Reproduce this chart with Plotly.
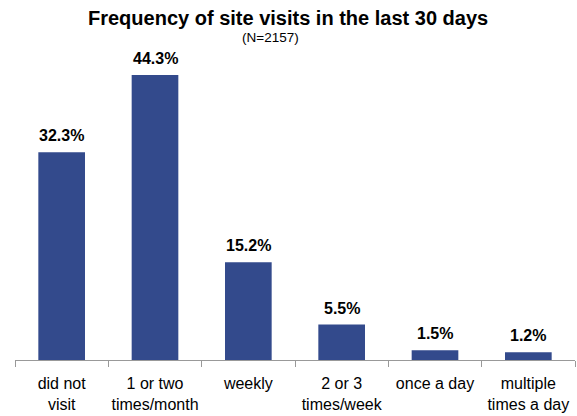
import plotly.graph_objects as go

categories = ["did not<br>visit", "1 or two<br>times/month", "weekly", "2 or 3<br>times/week", "once a day", "multiple<br>times a day"]
values = [32.3, 44.3, 15.2, 5.5, 1.5, 1.2]
title_text = "Frequency of site visits in the last 30 days"
subtitle_text = "(N=2157)"

fig = go.Figure(go.Bar(
    x=categories, y=values,
    marker=dict(color="#334A8C", line=dict(width=0)),
    width=0.5,
    hoverinfo="skip",
))

for c, v in zip(categories, values):
    fig.add_annotation(x=c, y=v, xref="x", yref="y", text=f"<b>{v:.1f}%</b>",
                       showarrow=False, xanchor="center", yanchor="bottom",
                       yshift=6,
                       font=dict(family="Liberation Sans, Arial", size=16, color="#000000"))

L, R, T, B = 15, 2, 64, 56
W, H = 577, 416
pw, ph = W - L - R, H - T - B

fig.update_layout(
    width=W, height=H,
    margin=dict(l=L, r=R, t=T, b=B),
    paper_bgcolor="white", plot_bgcolor="white",
    showlegend=False,
    font=dict(family="Liberation Sans, Arial", color="#000000"),
    xaxis=dict(
        type="category", range=[-0.5, 5.5],
        showline=True, linecolor="#999999", linewidth=1,
        ticks="outside", tickson="boundaries", ticklen=6, tickcolor="#999999",
        tickfont=dict(size=16, color="#000000"), tickangle=0,
        ticklabelstandoff=9,
        showgrid=False, automargin=False,
    ),
    yaxis=dict(range=[0, 46], visible=False, showgrid=False),
)
fig.add_annotation(text=f"<b>{title_text}</b>", xref="paper", yref="paper",
                   x=(288 - L) / pw, y=1 + (T - 18) / ph, showarrow=False,
                   xanchor="center", yanchor="middle",
                   font=dict(size=20, color="#000000"))
fig.add_annotation(text=subtitle_text, xref="paper", yref="paper",
                   x=(270 - L) / pw, y=1 + (T - 38) / ph, showarrow=False,
                   xanchor="center", yanchor="middle",
                   font=dict(size=13.5, color="#000000"))

fig.write_html("out.html", config={"displayModeBar": False})
with open("out.html", "r", encoding="utf-8") as f:
    html = f.read()
html = html.replace("<head>", "<head><style>html,body{margin:0;padding:0;}</style>", 1)
with open("out.html", "w", encoding="utf-8") as f:
    f.write(html)
